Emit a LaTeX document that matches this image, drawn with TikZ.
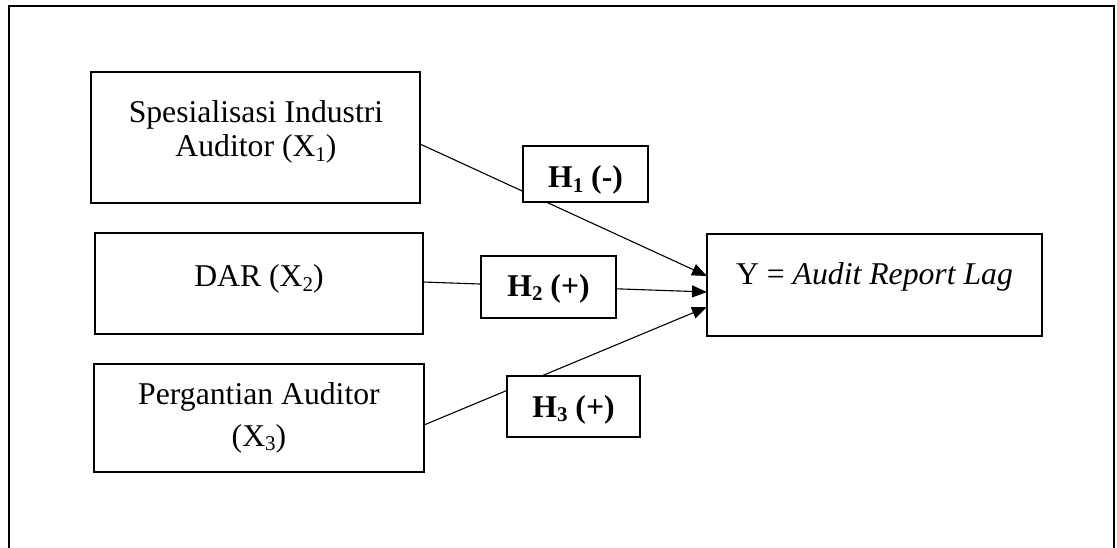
\documentclass[tikz,border=0pt]{standalone}
\usepackage{fontspec}
\setmainfont{Liberation Serif}
\usetikzlibrary{arrows.meta}
\newcommand\sbs[1]{\raisebox{-0.13em}{\fontsize{21}{21}\selectfont #1}}
\begin{document}
\begin{tikzpicture}[x=1pt,y=-1pt,
  box/.style={draw, line width=2.2pt, inner sep=0pt, outer sep=0pt, anchor=north west},
  hbox/.style={box, fill=white},
  txt/.style={anchor=base, inner sep=0pt, font=\fontsize{31.7}{33}\selectfont},
  htxt/.style={txt, font=\fontsize{31.7}{33}\selectfont\bfseries},
  conn/.style={line width=1.1pt, -{Triangle[length=15pt,width=12pt]}}]
\useasboundingbox (0,0) rectangle (1117,548);
\clip (0,0) rectangle (1117,548);
\draw[line width=2.5pt] (9,6) rectangle (1114,580);
% boxes
\node[box, minimum width=329pt, minimum height=131pt] (x1) at (91,72) {};
\node[box, minimum width=328pt, minimum height=101pt] (x2) at (95,233) {};
\node[box, minimum width=330pt, minimum height=108pt] (x3) at (94,364) {};
\node[box, minimum width=335pt, minimum height=102pt] (y) at (707,234) {};
% texts
\node[txt] (x1a) at (256,123) {Spesialisasi Industri};
\node[txt] (x1b) at (256,157) {Auditor (X\sbs{1})};
\node[txt] (x2a) at (259,287) {DAR (X\sbs{2})};
\node[txt] (x3a) at (259,404) {Pergantian Auditor};
\node[txt] (x3b) at (259,446) {(X\sbs{3})};
\node[txt] (ya) at (874.5,285) {Y = \textit{Audit Report Lag}};
% connectors
\coordinate (s1) at ([yshift=-6.5pt]x1.east);
\coordinate (t1) at ([yshift=9pt]y.west);
\coordinate (s2) at ([yshift=1.5pt]x2.east);
\coordinate (t2) at ([yshift=-7pt]y.west);
\coordinate (s3) at ([yshift=-7pt]x3.east);
\coordinate (t3) at ([yshift=-22pt]y.west);
\draw[conn] (s1) -- (t1);
\draw[conn] (s2) -- (t2);
\draw[conn] (s3) -- (t3);
% hypothesis boxes
\node[hbox, minimum width=125pt, minimum height=56pt] (h1) at (523,146) {};
\node[hbox, minimum width=135pt, minimum height=62pt] (h2) at (481,256) {};
\node[hbox, minimum width=133pt, minimum height=61pt] (h3) at (507,376) {};
\node[htxt] (h1t) at (585.5,188) {H\sbs{1} (-)};
\node[htxt] (h2t) at (548.5,296) {H\sbs{2} (+)};
\node[htxt] (h3t) at (573.5,417) {H\sbs{3} (+)};
\end{tikzpicture}
\end{document}
